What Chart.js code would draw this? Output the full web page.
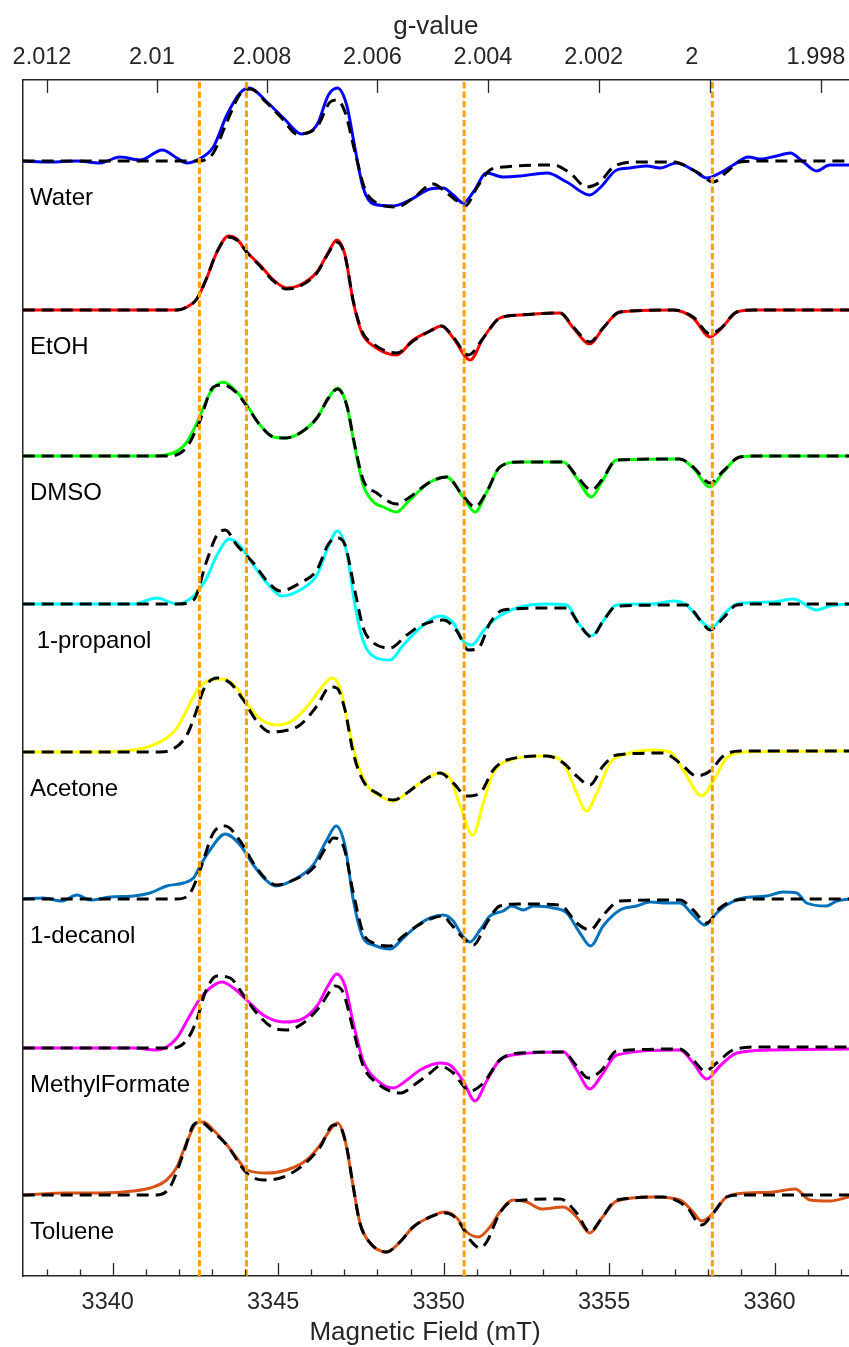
<!DOCTYPE html>
<html>
<head>
<meta charset="utf-8">
<script src="https://cdn.jsdelivr.net/npm/chart.js@4.4.1/dist/chart.umd.min.js"></script>
<style>
html,body{margin:0;padding:0;background:#ffffff;}
#wrap{width:849px;height:1347px;position:relative;}
</style>
</head>
<body>
<div id="wrap"><canvas id="c" width="849" height="1347"></canvas></div>
<script>
// ---------------- data (field in mT, intensity in arbitrary units) ----------------
const fieldMin = 3337.28;
const fieldMax = 3362.25;
const fieldTicks = [3340, 3345, 3350, 3355, 3360];
const gTicks = [2.012, 2.01, 2.008, 2.006, 2.004, 2.002, 2, 1.998];
const mwFrequencyGHz = 94.0;          // W-band
const hOverMuB = 71.4477;             // mT per GHz
const markerFields = [3342.62, 3344.04, 3350.62, 3358.12];

const solventNames = ['Water', 'EtOH', 'DMSO', ' 1-propanol', 'Acetone', '1-decanol', 'MethylFormate', 'Toluene'];
const solventColors = ['#0000ff', '#ff0000', '#00ff00', '#00ffff', '#ffff00', '#0072bd', '#ff00ff', '#d95319'];
const offsets = [1115, 966, 820, 672, 524, 377, 228, 81];

const waterExp = [[3337.28,0],[3338.11,-1],[3338.92,0],[3339.62,-2],[3340.22,4],[3340.83,1],[3341.50,11],[3341.94,3],[3342.24,-2],[3342.61,2],[3343.04,14],[3343.45,46],[3343.85,68],[3344.13,73],[3344.66,59],[3345.16,43],[3345.71,27],[3346.17,36],[3346.52,66],[3346.79,73],[3347.07,56],[3347.32,13],[3347.57,-27],[3347.88,-43],[3348.48,-45],[3348.98,-39],[3349.59,-28],[3349.99,-27],[3350.29,-34],[3350.59,-42],[3350.90,-31],[3351.30,-12],[3351.80,-16],[3352.31,-15],[3353.12,-12],[3353.72,-21],[3354.42,-34],[3354.72,-27],[3355.23,-9],[3355.63,-7],[3356.14,-5],[3356.54,-7],[3357.04,-2],[3357.54,-9],[3357.95,-17],[3358.35,-12],[3358.75,-4],[3359.21,4],[3359.56,2],[3360.06,5],[3360.47,8],[3360.87,-1],[3361.27,-10],[3361.67,-4],[3362.25,-4]];
const waterSim = [[3337.28,0],[3342.61,0],[3342.84,2],[3343.04,8],[3343.45,39],[3343.85,67],[3344.15,72],[3344.66,58],[3345.16,41],[3345.56,27],[3346.17,34],[3346.57,59],[3346.77,61],[3347.02,49],[3347.32,9],[3347.63,-29],[3347.98,-42],[3348.58,-46],[3349.08,-37],[3349.69,-23],[3349.99,-29],[3350.29,-37],[3350.65,-45],[3351.00,-27],[3351.40,-9],[3351.80,-6],[3353.31,-4],[3353.82,-12],[3354.32,-26],[3354.72,-21],[3355.13,-6],[3355.83,-1],[3356.94,-1],[3357.65,-11],[3358.15,-21],[3358.55,-11],[3358.95,-1],[3359.56,0],[3362.25,0]];

const etohExp = [[3337.28,0],[3341.94,0],[3342.24,3],[3342.54,11],[3342.84,32],[3343.15,58],[3343.50,74],[3343.75,71],[3344.05,58],[3344.45,45],[3344.86,30],[3345.26,22],[3345.66,25],[3346.17,38],[3346.52,58],[3346.77,70],[3347.02,55],[3347.27,8],[3347.53,-23],[3347.88,-36],[3348.58,-45],[3349.08,-30],[3349.59,-21],[3349.94,-16],[3350.29,-28],[3350.80,-50],[3351.20,-28],[3351.70,-8],[3352.31,-5],[3353.52,-3],[3353.92,-18],[3354.42,-34],[3354.82,-18],[3355.33,-2],[3356.94,0],[3357.54,-8],[3358.05,-27],[3358.35,-20],[3358.86,-2],[3359.36,0],[3362.25,0]];
const etohSim = [[3337.28,0],[3341.94,0],[3342.24,3],[3342.54,11],[3342.84,32],[3343.15,58],[3343.50,73],[3343.75,70],[3344.05,58],[3344.45,44],[3344.86,29],[3345.26,21],[3345.66,24],[3346.17,37],[3346.52,57],[3346.77,68],[3347.02,54],[3347.27,9],[3347.53,-21],[3347.88,-34],[3348.58,-43],[3349.08,-31],[3349.59,-21],[3349.94,-16],[3350.29,-27],[3350.75,-45],[3351.20,-28],[3351.70,-8],[3352.31,-5],[3353.52,-3],[3353.92,-17],[3354.42,-32],[3354.82,-18],[3355.33,-2],[3356.94,0],[3357.54,-7],[3358.05,-24],[3358.35,-19],[3358.86,-2],[3359.36,0],[3362.25,0]];

const dmsoExp = [[3337.28,0],[3341.13,0],[3341.83,3],[3342.24,14],[3342.61,38],[3342.94,63],[3343.34,74],[3343.75,64],[3344.05,51],[3344.45,31],[3344.86,19],[3345.21,18],[3345.66,23],[3346.17,38],[3346.52,58],[3346.79,68],[3347.07,51],[3347.32,8],[3347.57,-29],[3347.88,-46],[3348.18,-51],[3348.58,-56],[3348.89,-47],[3349.29,-34],[3349.59,-26],[3350.09,-21],[3350.59,-41],[3350.95,-56],[3351.30,-36],[3351.70,-11],[3352.31,-6],[3353.62,-6],[3354.02,-22],[3354.47,-41],[3354.78,-26],[3355.23,-4],[3357.14,-3],[3357.54,-12],[3358.05,-31],[3358.45,-16],[3358.95,-1],[3359.56,0],[3362.25,0]];
const dmsoSim = [[3337.28,0],[3341.73,0],[3342.24,9],[3342.61,33],[3343.04,69],[3343.34,71],[3343.75,63],[3344.05,50],[3344.45,31],[3344.86,19],[3345.21,18],[3345.66,23],[3346.17,38],[3346.52,58],[3346.79,67],[3347.07,51],[3347.32,10],[3347.57,-24],[3347.98,-37],[3348.58,-48],[3348.98,-41],[3349.29,-33],[3349.59,-26],[3350.09,-21],[3350.59,-40],[3350.95,-51],[3351.30,-36],[3351.70,-11],[3352.31,-6],[3353.62,-6],[3354.02,-20],[3354.47,-34],[3354.78,-24],[3355.23,-4],[3357.14,-3],[3357.54,-11],[3358.05,-27],[3358.45,-15],[3358.95,-1],[3359.56,0],[3362.25,0]];

const propanolExp = [[3337.28,0],[3340.63,0],[3341.33,6],[3341.94,0],[3342.44,8],[3342.84,26],[3343.15,49],[3343.53,65],[3343.85,58],[3344.25,39],[3344.66,21],[3345.11,8],[3345.66,14],[3346.17,29],[3346.52,58],[3346.79,73],[3347.07,52],[3347.32,-1],[3347.57,-37],[3347.98,-54],[3348.38,-56],[3348.78,-41],[3349.29,-24],[3349.89,-12],[3350.29,-19],[3350.59,-37],[3350.85,-41],[3351.20,-27],[3351.60,-14],[3352.31,-3],[3353.12,0],[3353.72,-1],[3354.07,-19],[3354.47,-32],[3354.82,-17],[3355.23,-1],[3356.34,0],[3356.94,3],[3357.34,-1],[3357.75,-16],[3358.10,-24],[3358.45,-11],[3358.86,0],[3359.96,2],[3360.57,5],[3361.27,-6],[3361.67,-2],[3362.25,0]];
const propanolSim = [[3337.28,0],[3341.94,0],[3342.44,4],[3342.84,43],[3343.15,69],[3343.40,74],[3343.75,59],[3344.25,41],[3344.66,23],[3345.06,13],[3345.66,21],[3346.17,34],[3346.52,60],[3346.79,66],[3347.02,59],[3347.32,13],[3347.57,-24],[3347.78,-36],[3348.38,-44],[3348.89,-31],[3349.29,-22],[3349.99,-16],[3350.40,-27],[3350.75,-46],[3351.05,-44],[3351.40,-19],[3351.80,-6],[3353.31,-4],[3353.72,-4],[3354.07,-19],[3354.47,-33],[3354.82,-17],[3355.23,-2],[3357.34,-1],[3357.75,-16],[3358.05,-26],[3358.45,-14],[3358.86,-1],[3359.56,0],[3362.25,0]];

const acetoneExp = [[3337.28,0],[3339.62,0],[3340.63,2],[3341.23,7],[3341.63,14],[3341.94,24],[3342.24,42],[3342.54,61],[3342.94,72],[3343.34,73],[3343.75,64],[3344.15,44],[3344.55,31],[3344.96,27],[3345.46,32],[3345.96,49],[3346.37,67],[3346.62,74],[3346.87,64],[3347.12,26],[3347.37,-8],[3347.68,-33],[3348.08,-44],[3348.48,-49],[3348.89,-41],[3349.29,-31],[3349.89,-21],[3350.19,-26],[3350.50,-54],[3350.88,-83],[3351.20,-51],[3351.50,-21],[3351.91,-9],[3353.12,-4],[3353.62,-11],[3354.02,-41],[3354.32,-59],[3354.63,-41],[3355.03,-11],[3355.53,-2],[3356.34,2],[3356.84,0],[3357.24,-18],[3357.80,-44],[3358.15,-29],[3358.55,-6],[3359.16,0],[3362.25,1]];
const acetoneSim = [[3337.28,0],[3341.43,0],[3341.83,3],[3342.24,17],[3342.54,42],[3342.74,62],[3343.15,74],[3343.55,69],[3343.95,52],[3344.35,31],[3344.76,20],[3345.16,21],[3345.66,27],[3346.17,46],[3346.57,65],[3346.77,64],[3347.02,42],[3347.27,-1],[3347.57,-29],[3347.98,-41],[3348.48,-48],[3348.89,-41],[3349.29,-31],[3349.89,-21],[3350.29,-31],[3350.70,-44],[3351.10,-41],[3351.50,-18],[3351.91,-8],[3353.12,-4],[3353.62,-11],[3354.02,-24],[3354.42,-33],[3354.82,-14],[3355.23,-3],[3356.64,-1],[3357.14,-11],[3357.65,-24],[3358.05,-19],[3358.45,-4],[3358.95,1],[3362.25,1]];

const decanolExp = [[3337.28,0],[3337.91,1],[3338.46,-2],[3338.92,4],[3339.32,-1],[3339.92,2],[3340.63,3],[3341.13,6],[3341.63,13],[3342.14,16],[3342.44,21],[3342.64,33],[3342.94,49],[3343.40,65],[3343.85,54],[3344.25,34],[3344.66,18],[3344.91,13],[3345.46,19],[3346.06,34],[3346.47,59],[3346.75,73],[3347.02,53],[3347.27,-1],[3347.57,-39],[3347.88,-46],[3348.38,-50],[3348.78,-39],[3349.19,-27],[3349.59,-19],[3349.99,-16],[3350.29,-22],[3350.55,-36],[3350.80,-43],[3351.10,-31],[3351.40,-17],[3351.80,-12],[3352.06,-7],[3352.41,-11],[3352.71,-7],[3353.31,-9],[3353.72,-14],[3354.12,-34],[3354.44,-47],[3354.82,-27],[3355.33,-11],[3355.83,-7],[3356.24,-3],[3356.74,-4],[3357.14,-4],[3357.54,-16],[3357.90,-26],[3358.25,-14],[3358.55,-6],[3359.05,1],[3359.76,3],[3360.26,7],[3360.67,6],[3360.97,-4],[3361.57,-7],[3361.88,-2],[3362.25,0]];
const decanolSim = [[3337.28,0],[3341.94,0],[3342.34,6],[3342.64,29],[3343.04,66],[3343.40,73],[3343.85,58],[3344.25,36],[3344.66,19],[3344.96,14],[3345.46,19],[3346.06,31],[3346.47,53],[3346.67,61],[3346.97,53],[3347.27,6],[3347.57,-34],[3347.88,-44],[3348.38,-47],[3348.78,-37],[3349.19,-27],[3349.59,-20],[3349.99,-17],[3350.19,-24],[3350.59,-39],[3350.90,-46],[3351.30,-24],[3351.70,-7],[3352.31,-5],[3353.52,-6],[3354.02,-24],[3354.42,-31],[3354.82,-16],[3355.33,-2],[3357.14,-1],[3357.54,-11],[3357.95,-24],[3358.35,-9],[3358.86,-1],[3359.56,0],[3362.25,0]];

const mfExp = [[3337.28,0],[3340.63,0],[3341.33,-2],[3341.63,1],[3341.94,10],[3342.24,27],[3342.61,48],[3342.94,60],[3343.30,66],[3343.65,60],[3344.05,48],[3344.55,33],[3345.16,26],[3345.66,28],[3346.17,42],[3346.52,63],[3346.77,74],[3347.02,62],[3347.27,25],[3347.57,-13],[3347.98,-32],[3348.48,-40],[3348.89,-32],[3349.29,-22],[3349.89,-15],[3350.19,-17],[3350.59,-33],[3350.95,-53],[3351.30,-33],[3351.70,-12],[3352.31,-6],[3353.62,-4],[3354.02,-22],[3354.42,-41],[3354.78,-27],[3355.23,-7],[3357.14,-2],[3357.54,-15],[3357.95,-31],[3358.35,-18],[3358.86,-5],[3359.86,-2],[3362.25,-1]];
const mfSim = [[3337.28,0],[3341.83,0],[3342.24,8],[3342.54,28],[3342.79,55],[3343.15,72],[3343.55,70],[3343.95,53],[3344.35,35],[3344.86,20],[3345.26,18],[3345.76,25],[3346.27,42],[3346.57,57],[3346.72,62],[3346.97,55],[3347.27,18],[3347.57,-18],[3347.98,-35],[3348.68,-45],[3349.19,-35],[3349.59,-25],[3349.89,-18],[3350.29,-25],[3350.80,-43],[3351.20,-35],[3351.70,-12],[3352.31,-5],[3353.62,-4],[3354.02,-18],[3354.37,-30],[3354.78,-22],[3355.23,-3],[3357.14,-1],[3357.54,-12],[3357.90,-23],[3358.25,-15],[3358.75,-2],[3359.56,1],[3362.25,1]];

const tolueneExp = [[3337.28,0],[3338.61,2],[3339.62,2],[3340.63,4],[3341.13,7],[3341.63,15],[3341.94,28],[3342.24,53],[3342.54,72],[3342.74,73],[3343.04,65],[3343.45,50],[3343.75,37],[3344.05,25],[3344.66,22],[3345.26,25],[3345.86,35],[3346.27,50],[3346.57,65],[3346.79,72],[3347.02,55],[3347.27,8],[3347.47,-28],[3347.78,-48],[3348.28,-57],[3348.68,-47],[3349.08,-32],[3349.59,-22],[3350.04,-17],[3350.40,-23],[3350.70,-37],[3351.05,-42],[3351.40,-32],[3351.70,-17],[3352.11,-5],[3352.51,-7],[3352.96,-14],[3353.62,-12],[3354.02,-22],[3354.42,-38],[3354.78,-23],[3355.23,-6],[3356.34,-2],[3357.14,-5],[3357.54,-17],[3357.80,-26],[3358.15,-18],[3358.55,-2],[3359.16,2],[3359.96,3],[3360.62,6],[3361.07,-5],[3361.67,-6],[3362.25,-2]];
const tolueneSim = [[3337.28,0],[3341.33,0],[3341.73,8],[3342.14,42],[3342.44,70],[3342.64,73],[3343.04,63],[3343.45,50],[3344.05,22],[3344.55,15],[3345.16,18],[3345.76,30],[3346.27,48],[3346.67,70],[3346.82,70],[3347.07,48],[3347.27,8],[3347.47,-28],[3347.78,-48],[3348.28,-57],[3348.68,-47],[3349.08,-32],[3349.59,-22],[3350.04,-18],[3350.40,-24],[3350.80,-45],[3351.10,-53],[3351.30,-47],[3351.70,-18],[3352.11,-6],[3353.52,-4],[3354.02,-18],[3354.42,-37],[3354.78,-23],[3355.23,-5],[3356.64,-2],[3357.34,-12],[3357.80,-30],[3358.15,-18],[3358.55,-2],[3358.95,0],[3362.25,0]];

const experimental = [waterExp, etohExp, dmsoExp, propanolExp, acetoneExp, decanolExp, mfExp, tolueneExp];
const simulated = [waterSim, etohSim, dmsoSim, propanolSim, acetoneSim, decanolSim, mfSim, tolueneSim];

// ---------------- chart ----------------
const gConst = hOverMuB * mwFrequencyGHz;   // g * B (mT)
const yMin = 0, yMax = 1196;
const labelField = 3337.5, labelDrop = 37.5;
const axisColor = '#262626';
const fontFamily = '"Liberation Sans", Arial, Helvetica, sans-serif';

const datasets = [];
markerFields.forEach(f => {
  datasets.push({
    data: [{x: f, y: yMin}, {x: f, y: yMax}],
    borderColor: '#ffa000', borderWidth: 3, borderDash: [6.5, 3],
    pointRadius: 0, order: -1, tension: 0
  });
});
experimental.forEach((arr, i) => {
  datasets.push({
    data: arr.map(p => ({x: p[0], y: p[1] + offsets[i]})),
    borderColor: solventColors[i], borderWidth: 3,
    pointRadius: 0, cubicInterpolationMode: 'monotone', order: 2
  });
});
simulated.forEach((arr, i) => {
  datasets.push({
    data: arr.map(p => ({x: p[0], y: p[1] + offsets[i]})),
    borderColor: '#000000', borderWidth: 3, borderDash: [12, 7],
    pointRadius: 0, cubicInterpolationMode: 'monotone', order: 1
  });
});

const decorPlugin = {
  id: 'decor',
  afterDatasetsDraw(chart) {
    const ctx = chart.ctx;
    const xs = chart.scales.x, xt = chart.scales.x2, ys = chart.scales.y;
    const area = chart.chartArea;
    ctx.save();
    // trace labels
    ctx.fillStyle = '#000000';
    ctx.font = '24px ' + fontFamily;
    ctx.textAlign = 'left';
    ctx.textBaseline = 'middle';
    solventNames.forEach((n, i) => {
      ctx.fillText(n, xs.getPixelForValue(labelField), ys.getPixelForValue(offsets[i] - labelDrop));
    });
    // inward ticks
    ctx.strokeStyle = axisColor;
    ctx.lineWidth = 1.3;
    ctx.beginPath();
    for (let v = Math.ceil(fieldMin); v <= Math.floor(fieldMax); v++) {
      const px = Math.round(xs.getPixelForValue(v)) + 0.5;
      const len = (v % 5 === 0) ? 13 : 6.5;
      ctx.moveTo(px, area.bottom);
      ctx.lineTo(px, area.bottom - len);
    }
    gTicks.forEach(g => {
      const px = Math.round(xt.getPixelForValue(gConst / g)) + 0.5;
      ctx.moveTo(px, area.top);
      ctx.lineTo(px, area.top + 13);
    });
    ctx.stroke();
    ctx.restore();
  }
};

const tickFont = {family: fontFamily, size: 23.5};
const titleFont = {family: fontFamily, size: 26, lineHeight: 1.1};

new Chart(document.getElementById('c').getContext('2d'), {
  type: 'line',
  data: {datasets},
  options: {
    responsive: false,
    animation: false,
    devicePixelRatio: 1,
    layout: {padding: {left: 22.7, right: 0, top: 0, bottom: 0}},
    plugins: {legend: {display: false}, tooltip: {enabled: false}},
    scales: {
      x: {
        type: 'linear', position: 'bottom', min: fieldMin, max: fieldMax,
        afterBuildTicks: s => { s.ticks = fieldTicks.map(v => ({value: v})); },
        afterFit: s => { s.height = 71; s.paddingLeft = 0; s.paddingRight = 0; },
        grid: {display: false, drawTicks: false},
        border: {display: true, color: axisColor, width: 1.5},
        ticks: {autoSkip: false, maxRotation: 0, padding: 12, labelOffset: -5, color: axisColor, font: tickFont,
                callback: v => String(v)},
        title: {display: true, text: 'Magnetic Field (mT)   ', color: axisColor, font: titleFont, padding: {top: 0, bottom: 0}}
      },
      x2: {
        type: 'linear', position: 'top', min: fieldMin, max: fieldMax,
        afterBuildTicks: s => { s.ticks = gTicks.map(g => ({value: gConst / g})); },
        afterFit: s => { s.height = 80; s.paddingLeft = 0; s.paddingRight = 0; },
        grid: {display: false, drawTicks: false},
        border: {display: true, color: axisColor, width: 1.5},
        ticks: {
          autoSkip: false, maxRotation: 0, padding: 8, labelOffset: -5, color: axisColor, font: tickFont,
          callback: v => {
            const s = String(Math.round(gConst / v * 1000) / 1000);
            return s.length === 1 ? s + '    ' : s;
          }
        },
        title: {display: true, text: 'g-value', color: axisColor, font: titleFont, padding: {top: 13, bottom: 0}}
      },
      y: {
        type: 'linear', position: 'left', min: yMin, max: yMax,
        afterFit: s => { s.width = 0; },
        grid: {display: false, drawTicks: false},
        border: {display: true, color: axisColor, width: 1.5},
        ticks: {display: false}
      }
    }
  },
  plugins: [decorPlugin]
});
</script>
</body>
</html>
